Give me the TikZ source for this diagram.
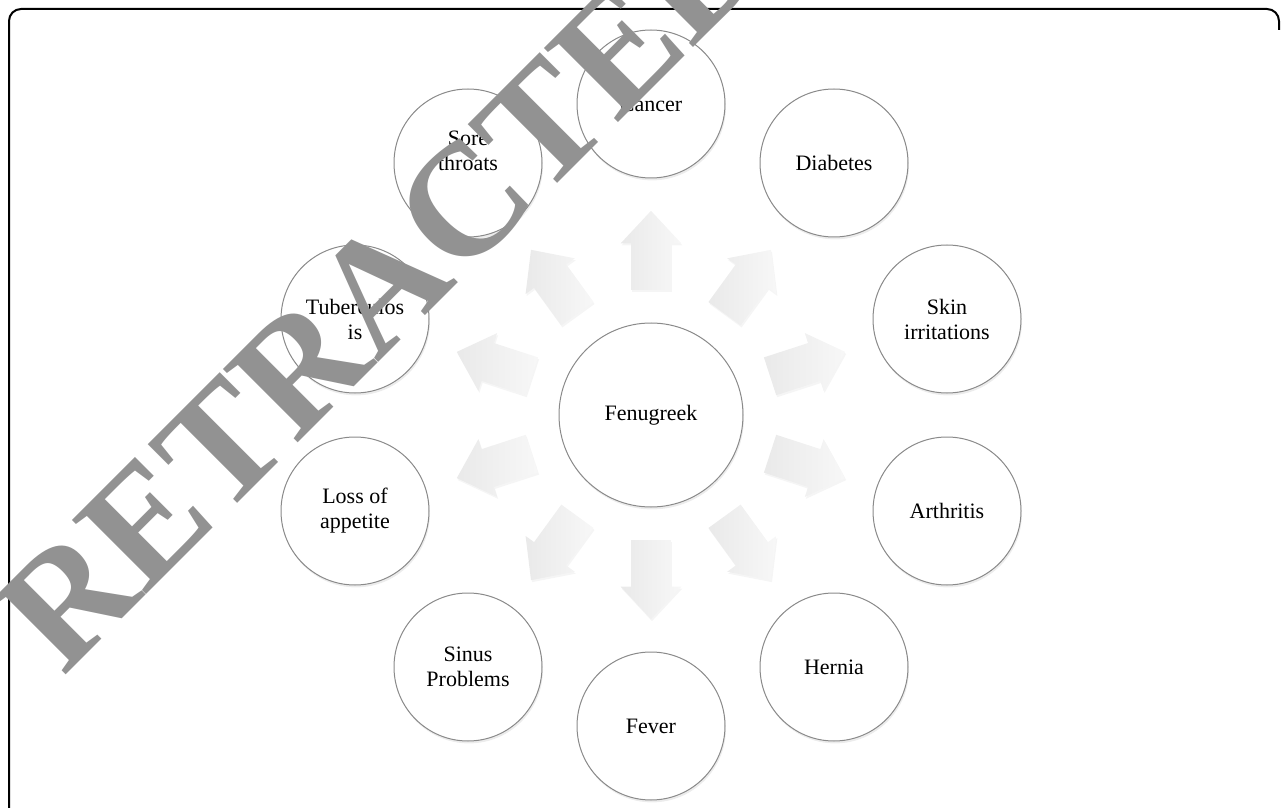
\documentclass[tikz,border=0pt]{standalone}
\usepackage{fontspec}
\setmainfont{Liberation Serif}
\usetikzlibrary{shapes.arrows, shadows}
\definecolor{wmgray}{RGB}{146,146,146}
\definecolor{rimgray}{RGB}{138,138,138}

\begin{document}
\begin{tikzpicture}[x=0.5pt, y=-0.5pt,
  topic/.style={circle, draw=rimgray, line width=0.5pt, fill=white,
    minimum size=74pt, inner sep=0pt, align=center,
    font=\fontsize{11}{12.5}\selectfont,
    drop shadow={opacity=0.15, shadow xshift=0.5pt, shadow yshift=-1.2pt}},
  spoke/.style={single arrow, draw=none, inner xsep=0pt, inner ysep=9.75pt,
    minimum height=39.5pt, minimum width=30pt,
    single arrow head extend=5.25pt, single arrow tip angle=86,
    left color=gray!17, right color=gray!6,
    drop shadow={opacity=0.08, shadow xshift=0.5pt, shadow yshift=-1pt}}]
  \useasboundingbox (0,0) rectangle (1287,808);

  % frame
  \draw[line width=1pt, rounded corners=6pt] (9,808) -- (9,9) -- (1279,9) -- (1279,30);

  % arrows out of the centre
  \node[spoke, rotate=90] (a1) at (651,261) {};
  \node[spoke, rotate=54] (a2) at (741.5,290.4) {};
  \node[spoke, rotate=18] (a3) at (797.5,367.4) {};
  \node[spoke, rotate=-18] (a4) at (797.5,462.6) {};
  \node[spoke, rotate=-54] (a5) at (741.5,539.6) {};
  \node[spoke, rotate=-90] (a6) at (651,569) {};
  \node[spoke, rotate=-126] (a7) at (560.5,539.6) {};
  \node[spoke, rotate=-162] (a8) at (504.5,462.6) {};
  \node[spoke, rotate=162] (a9) at (504.5,367.4) {};
  \node[spoke, rotate=126] (a10) at (560.5,290.4) {};

  % centre and uses
  \node[topic, minimum size=92pt] (fenu) at (651,415) {Fenugreek};
  \node[topic] (cancer) at (651,104) {Cancer};
  \node[topic] (diab) at (834,163) {Diabetes};
  \node[topic] (skin) at (947,319) {Skin\\irritations};
  \node[topic] (arth) at (947,511) {Arthritis};
  \node[topic] (hern) at (834,667) {Hernia};
  \node[topic] (fever) at (651,726) {Fever};
  \node[topic] (sinus) at (468,667) {Sinus\\Problems};
  \node[topic] (loss) at (355,511) {Loss of\\appetite};
  \node[topic] (tuber) at (355,319) {Tuberculos\\is};
  \node[topic] (sore) at (468,163) {Sore\\throats\\\mbox{}};

  % watermark
  \node[anchor=base west, rotate=45, inner sep=0pt, text=wmgray,
    font=\fontsize{80}{80}\bfseries\selectfont] (wm) at (63,678) {RETRACTED};
\end{tikzpicture}
\end{document}
